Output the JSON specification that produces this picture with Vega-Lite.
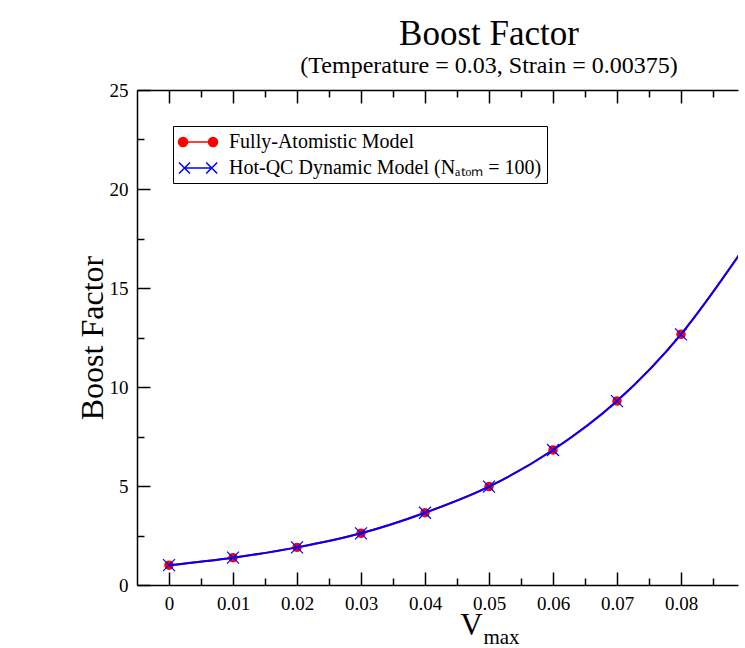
{
  "$schema": "https://vega.github.io/schema/vega-lite/v6.json",
  "width": 601,
  "height": 495,
  "autosize": "none",
  "padding": {"left": 137, "top": 90, "right": 7, "bottom": 63},
  "background": "white",
  "title": {
    "text": "Boost Factor",
    "subtitle": "(Temperature = 0.03, Strain = 0.00375)",
    "font": "Liberation Serif",
    "fontSize": 35,
    "fontWeight": "normal",
    "color": "black",
    "subtitleFont": "Liberation Serif",
    "subtitleFontSize": 24,
    "subtitleColor": "black",
    "subtitlePadding": 2,
    "anchor": "middle",
    "dx": 51.5,
    "offset": 3
  },
  "data": {
    "values": [
      {"v": 0.00, "b": 1.00, "s": "Fully-Atomistic Model"},
      {"v": 0.01, "b": 1.38, "s": "Fully-Atomistic Model"},
      {"v": 0.02, "b": 1.90, "s": "Fully-Atomistic Model"},
      {"v": 0.03, "b": 2.61, "s": "Fully-Atomistic Model"},
      {"v": 0.04, "b": 3.65, "s": "Fully-Atomistic Model"},
      {"v": 0.05, "b": 4.97, "s": "Fully-Atomistic Model"},
      {"v": 0.06, "b": 6.82, "s": "Fully-Atomistic Model"},
      {"v": 0.07, "b": 9.29, "s": "Fully-Atomistic Model"},
      {"v": 0.08, "b": 12.66, "s": "Fully-Atomistic Model"},
      {"v": 0.09, "b": 17.1, "s": "Fully-Atomistic Model"},
      {"v": 0.00, "b": 1.00, "s": "Hot-QC Dynamic Model (Nₐₜₒₘ = 100)"},
      {"v": 0.01, "b": 1.38, "s": "Hot-QC Dynamic Model (Nₐₜₒₘ = 100)"},
      {"v": 0.02, "b": 1.90, "s": "Hot-QC Dynamic Model (Nₐₜₒₘ = 100)"},
      {"v": 0.03, "b": 2.61, "s": "Hot-QC Dynamic Model (Nₐₜₒₘ = 100)"},
      {"v": 0.04, "b": 3.65, "s": "Hot-QC Dynamic Model (Nₐₜₒₘ = 100)"},
      {"v": 0.05, "b": 4.97, "s": "Hot-QC Dynamic Model (Nₐₜₒₘ = 100)"},
      {"v": 0.06, "b": 6.82, "s": "Hot-QC Dynamic Model (Nₐₜₒₘ = 100)"},
      {"v": 0.07, "b": 9.29, "s": "Hot-QC Dynamic Model (Nₐₜₒₘ = 100)"},
      {"v": 0.08, "b": 12.66, "s": "Hot-QC Dynamic Model (Nₐₜₒₘ = 100)"},
      {"v": 0.09, "b": 17.1, "s": "Hot-QC Dynamic Model (Nₐₜₒₘ = 100)"}
    ]
  },
  "resolve": {"axis": {"x": "independent", "y": "independent"}},
  "layer": [
    {
      "transform": [{"filter": "datum.s === 'Fully-Atomistic Model'"}],
      "mark": {"type": "line", "strokeWidth": 2, "interpolate": "monotone", "clip": true},
      "encoding": {
        "x": {"field": "v", "type": "quantitative", "scale": {"domain": [-0.005, 0.08890625], "nice": false, "zero": false},
          "axis": {"orient": "bottom", "values": [0, 0.01, 0.02, 0.03, 0.04, 0.05, 0.06, 0.07, 0.08], "format": ".2~f", "tickSize": -13, "labelPadding": 22,
            "domain": true,
            "title": "V", "titleFontSize": 31, "titleX": 334, "titleY": 49, "titleAlign": "center", "titleBaseline": "alphabetic"}},
        "y": {"field": "b", "type": "quantitative", "scale": {"domain": [0, 25], "nice": false},
          "axis": {"orient": "left", "values": [0, 5, 10, 15, 20, 25], "tickSize": -13, "labelPadding": 22,
            "domain": true,
            "title": "Boost Factor", "titleFontSize": 32, "titleX": -45, "titleY": 247.5, "titleAngle": -90, "titleAlign": "center", "titleBaseline": "middle"}},
        "color": {"field": "s", "type": "nominal",
          "scale": {"domain": ["Fully-Atomistic Model", "Hot-QC Dynamic Model (Nₐₜₒₘ = 100)"], "range": ["#ff0000", "#0000ff"]},
          "legend": {
            "title": null, "orient": "none", "legendX": 36, "legendY": 36,
            "fillColor": "white", "strokeColor": "black", "cornerRadius": 0, "padding": 5,
            "labelFont": "Liberation Serif", "labelFontSize": 20, "labelColor": "black", "labelOffset": 29, "labelLimit": 500,
            "symbolSize": 400, "rowPadding": 5,
            "encode": {"symbols": {"update": {
              "shape": {"signal": "datum.value === 'Fully-Atomistic Model' ? 'M-0.6,0L2.4,0M-1.05,0A0.45,0.45 0 1,0 -0.15,0A0.45,0.45 0 1,0 -1.05,0M1.95,0A0.45,0.45 0 1,0 2.85,0A0.45,0.45 0 1,0 1.95,0Z' : 'M-0.45,0L2.27,0M-1,-0.55L0.1,0.55M-1,0.55L0.1,-0.55M1.72,-0.55L2.82,0.55M1.72,0.55L2.82,-0.55'"},
              "fill": {"signal": "datum.value === 'Fully-Atomistic Model' ? '#ff0000' : 'transparent'"},
              "stroke": {"signal": "datum.value === 'Fully-Atomistic Model' ? '#ff0000' : '#0000ff'"},
              "strokeWidth": {"value": 1.5},
              "size": {"value": 400}
            }}, "labels": {"update": {"font": {"value": "Liberation Serif"}}}}
          }}
      }
    },
    {
      "transform": [{"filter": "datum.s === 'Fully-Atomistic Model'"}],
      "mark": {"type": "point", "shape": "circle", "filled": true, "color": "#ff0000", "size": 90, "opacity": 1, "clip": true},
      "encoding": {
        "x": {"field": "v", "type": "quantitative",
          "axis": {"orient": "top", "values": [0, 0.01, 0.02, 0.03, 0.04, 0.05, 0.06, 0.07, 0.08], "labels": false, "tickSize": -13, "domain": true, "title": null}},
        "y": {"field": "b", "type": "quantitative",
          "axis": {"orient": "left", "values": [2.5, 7.5, 12.5, 17.5, 22.5], "labels": false, "tickSize": -7, "title": null}}
      }
    },
    {
      "transform": [{"filter": "datum.s !== 'Fully-Atomistic Model'"}],
      "mark": {"type": "line", "strokeWidth": 2, "interpolate": "monotone", "clip": true},
      "encoding": {
        "x": {"field": "v", "type": "quantitative",
          "axis": {"orient": "bottom", "values": [0.005, 0.015, 0.025, 0.035, 0.045, 0.055, 0.065, 0.075, 0.085], "labels": false, "tickSize": -7,
            "title": "max", "titleFontSize": 21, "titleX": 364, "titleY": 58, "titleAlign": "center", "titleBaseline": "alphabetic"}},
        "y": {"field": "b", "type": "quantitative", "axis": null},
        "color": {"field": "s", "type": "nominal"}
      }
    },
    {
      "transform": [{"filter": "datum.s !== 'Fully-Atomistic Model'"}],
      "mark": {"type": "point", "shape": "M-1,-1L1,1M-1,1L1,-1", "filled": false, "color": "#0000ff", "size": 144, "strokeWidth": 1.2, "opacity": 1, "clip": true},
      "encoding": {
        "x": {"field": "v", "type": "quantitative",
          "axis": {"orient": "top", "values": [0.005, 0.015, 0.025, 0.035, 0.045, 0.055, 0.065, 0.075, 0.085], "labels": false, "tickSize": -7, "title": null}},
        "y": {"field": "b", "type": "quantitative", "axis": null}
      }
    }
  ],
  "config": {
    "font": "Liberation Serif",
    "view": {"stroke": null},
    "legend": {"labelFont": "Liberation Serif"},
    "axis": {
      "domain": false, "grid": false,
      "domainColor": "black", "domainWidth": 1.5,
      "tickColor": "black", "tickWidth": 1.5,
      "labelFont": "Liberation Serif", "labelFontSize": 19, "labelColor": "black",
      "titleFont": "Liberation Serif", "titleFontWeight": "normal", "titleColor": "black"
    }
  }
}
